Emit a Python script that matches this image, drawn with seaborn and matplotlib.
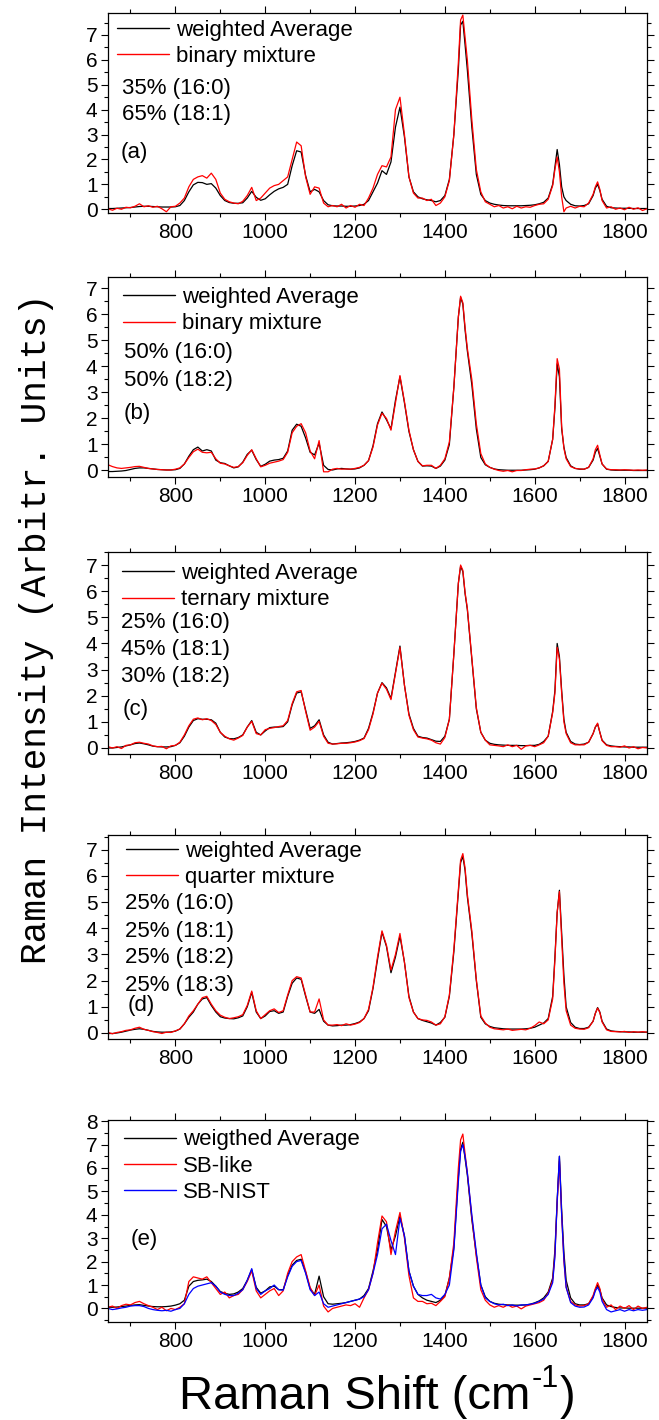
import matplotlib
matplotlib.use("Agg")
import matplotlib.pyplot as plt
from matplotlib.ticker import MultipleLocator
import pandas as pd
import seaborn as sns

# Raman shift grid (cm^-1) shared by every spectrum
shift = [650, 660, 670, 680, 690, 700, 710, 720, 730, 740,
         750, 760, 770, 780, 790, 800, 810, 820, 830, 840,
         850, 860, 870, 880, 890, 900, 910, 920, 930, 940,
         950, 960, 970, 980, 990, 1000, 1010, 1020, 1030, 1040,
         1050, 1060, 1070, 1080, 1090, 1100, 1110, 1120, 1130, 1140,
         1150, 1160, 1170, 1180, 1190, 1200, 1210, 1220, 1230, 1240,
         1250, 1260, 1270, 1280, 1290, 1300, 1310, 1320, 1330, 1340,
         1350, 1360, 1370, 1380, 1390, 1400, 1410, 1420, 1430, 1435,
         1440, 1445, 1450, 1460, 1470, 1480, 1490, 1500, 1510, 1520,
         1530, 1540, 1550, 1560, 1570, 1580, 1590, 1600, 1610, 1620,
         1630, 1640, 1645, 1650, 1655, 1660, 1665, 1670, 1680, 1690,
         1700, 1710, 1720, 1730, 1735, 1740, 1745, 1750, 1760, 1770,
         1780, 1790, 1800, 1810, 1820, 1830, 1840, 1850]

# (a) 35% 16:0 + 65% 18:1
avg_a = [0.03, 0.03, 0.04, 0.05, 0.06, 0.07, 0.09, 0.11, 0.12, 0.12,
         0.11, 0.10, 0.09, 0.09, 0.09, 0.10, 0.15, 0.35, 0.70, 0.98,
         1.08, 1.07, 1.00, 1.03, 0.85, 0.55, 0.35, 0.27, 0.24, 0.24,
         0.26, 0.45, 0.72, 0.48, 0.36, 0.42, 0.58, 0.72, 0.82, 0.88,
         1.00, 1.75, 2.35, 2.30, 1.35, 0.70, 0.80, 0.70, 0.35, 0.18,
         0.14, 0.13, 0.13, 0.12, 0.12, 0.13, 0.15, 0.20, 0.35, 0.70,
         1.05, 1.55, 1.40, 1.90, 3.30, 4.10, 2.90, 1.30, 0.70, 0.50,
         0.42, 0.38, 0.35, 0.30, 0.35, 0.55, 1.20, 3.00, 5.60, 7.40,
         7.55, 6.60, 5.60, 3.30, 1.40, 0.60, 0.35, 0.25, 0.20, 0.17,
         0.15, 0.14, 0.14, 0.14, 0.14, 0.15, 0.16, 0.18, 0.22, 0.28,
         0.45, 1.00, 1.70, 2.40, 1.80, 0.90, 0.50, 0.35, 0.20, 0.14,
         0.13, 0.15, 0.22, 0.55, 0.85, 1.00, 0.75, 0.40, 0.12, 0.06,
         0.05, 0.04, 0.04, 0.04, 0.03, 0.03, 0.03, 0.03]
mix_a = [0.02, -0.04, 0.04, 0.00, 0.08, 0.06, 0.12, 0.22, 0.10, 0.14,
         0.08, 0.12, 0.02, -0.10, 0.10, 0.12, 0.25, 0.45, 0.90, 1.20,
         1.30, 1.35, 1.25, 1.45, 1.20, 0.65, 0.40, 0.30, 0.25, 0.22,
         0.32, 0.55, 0.88, 0.35, 0.45, 0.65, 0.85, 0.95, 1.00, 1.15,
         1.30, 2.00, 2.70, 2.55, 1.30, 0.60, 0.90, 0.85, 0.25, 0.10,
         0.15, 0.10, 0.20, 0.05, 0.15, 0.08, 0.20, 0.15, 0.45, 0.85,
         1.40, 1.75, 1.70, 2.10, 4.00, 4.50, 3.00, 1.30, 0.65, 0.45,
         0.45, 0.35, 0.40, 0.15, 0.25, 0.50, 1.15, 3.00, 5.90, 7.60,
         7.80, 6.90, 6.00, 3.60, 1.60, 0.70, 0.30, 0.20, 0.10, 0.15,
         0.05, 0.10, 0.02, 0.12, 0.05, 0.10, 0.08, 0.15, 0.20, 0.22,
         0.40, 0.95, 1.60, 2.10, 1.50, 0.50, -0.10, 0.05, 0.12, 0.05,
         0.12, 0.10, 0.25, 0.60, 0.90, 1.10, 0.80, 0.35, 0.05, 0.10,
         0.00, 0.05, -0.02, 0.08, 0.00, 0.06, -0.05, 0.02]

# (b) 50% 16:0 + 50% 18:2
avg_b = [-0.04, -0.04, -0.03, -0.02, 0.00, 0.04, 0.08, 0.10, 0.10, 0.08,
         0.06, 0.04, 0.03, 0.02, 0.02, 0.03, 0.08, 0.25, 0.55, 0.80,
         0.90, 0.75, 0.80, 0.75, 0.40, 0.30, 0.27, 0.18, 0.10, 0.14,
         0.32, 0.62, 0.78, 0.42, 0.16, 0.24, 0.36, 0.40, 0.42, 0.47,
         0.75, 1.55, 1.78, 1.70, 1.25, 0.70, 0.60, 1.05, 0.20, 0.04,
         0.02, 0.06, 0.08, 0.06, 0.05, 0.06, 0.10, 0.20, 0.38, 0.95,
         1.80, 2.25, 1.95, 1.60, 2.70, 3.60, 2.60, 1.50, 0.80, 0.35,
         0.17, 0.18, 0.17, 0.08, 0.17, 0.40, 1.00, 3.20, 5.90, 6.65,
         6.40, 5.40, 4.60, 3.30, 1.60, 0.50, 0.22, 0.12, 0.06, 0.03,
         0.02, 0.01, 0.01, 0.01, 0.01, 0.02, 0.03, 0.05, 0.10, 0.18,
         0.35, 1.20, 2.40, 4.10, 3.60, 1.60, 0.90, 0.50, 0.18, 0.08,
         0.05, 0.05, 0.12, 0.40, 0.70, 0.85, 0.55, 0.25, 0.05, 0.02,
         0.01, 0.01, 0.01, 0.01, 0.00, 0.00, 0.00, 0.00]
mix_b = [0.22, 0.15, 0.10, 0.08, 0.10, 0.12, 0.15, 0.16, 0.12, 0.08,
         0.06, 0.04, 0.03, 0.02, 0.02, 0.05, 0.10, 0.25, 0.50, 0.72,
         0.82, 0.70, 0.68, 0.70, 0.45, 0.28, 0.25, 0.18, 0.12, 0.15,
         0.30, 0.58, 0.80, 0.45, 0.14, 0.20, 0.28, 0.32, 0.36, 0.42,
         0.70, 1.45, 1.70, 1.80, 1.45, 0.75, 0.45, 1.15, -0.05, -0.05,
         0.05, 0.08, 0.05, 0.06, 0.05, 0.08, 0.12, 0.20, 0.38, 0.90,
         1.75, 2.20, 2.00, 1.55, 2.60, 3.65, 2.65, 1.55, 0.80, 0.35,
         0.18, 0.20, 0.20, 0.08, 0.20, 0.45, 1.10, 3.20, 5.90, 6.70,
         6.45, 5.50, 4.70, 3.50, 1.80, 0.65, 0.25, 0.12, 0.05, 0.00,
         -0.03, 0.00, -0.05, 0.00, 0.00, 0.03, 0.05, 0.06, 0.10, 0.18,
         0.35, 1.20, 2.50, 4.30, 3.90, 1.70, 0.85, 0.45, 0.15, 0.08,
         0.06, 0.05, 0.12, 0.45, 0.80, 0.97, 0.60, 0.25, 0.06, 0.03,
         0.03, 0.02, 0.03, 0.02, 0.01, 0.02, 0.01, 0.02]

# (c) 25% 16:0 + 45% 18:1 + 30% 18:2
avg_c = [0.00, 0.00, 0.02, 0.04, 0.08, 0.12, 0.17, 0.19, 0.16, 0.12,
         0.07, 0.05, 0.04, 0.04, 0.05, 0.10, 0.20, 0.45, 0.80, 1.05,
         1.12, 1.10, 1.10, 1.08, 0.95, 0.60, 0.42, 0.36, 0.35, 0.40,
         0.50, 0.80, 1.05, 0.60, 0.50, 0.65, 0.78, 0.80, 0.80, 0.82,
         1.00, 1.65, 2.10, 2.15, 1.45, 0.75, 0.85, 1.08, 0.50, 0.22,
         0.15, 0.17, 0.19, 0.20, 0.22, 0.25, 0.30, 0.38, 0.75, 1.35,
         2.10, 2.50, 2.30, 1.90, 2.90, 3.90, 2.40, 1.30, 0.75, 0.45,
         0.40, 0.38, 0.32, 0.26, 0.25, 0.45, 1.10, 3.60, 6.30, 6.95,
         6.75, 5.90, 5.30, 3.40, 1.50, 0.60, 0.30, 0.18, 0.14, 0.12,
         0.11, 0.10, 0.10, 0.10, 0.09, 0.09, 0.10, 0.10, 0.14, 0.25,
         0.45, 1.40, 2.20, 4.00, 3.50, 2.20, 1.10, 0.60, 0.25, 0.15,
         0.13, 0.15, 0.22, 0.55, 0.80, 0.92, 0.60, 0.30, 0.12, 0.08,
         0.06, 0.05, 0.04, 0.04, 0.03, 0.03, 0.03, 0.03]
mix_c = [0.05, 0.00, 0.05, -0.02, 0.10, 0.12, 0.20, 0.22, 0.18, 0.15,
         0.08, 0.05, 0.06, -0.03, 0.08, 0.10, 0.22, 0.50, 0.85, 1.10,
         1.15, 1.08, 1.12, 1.05, 0.90, 0.60, 0.45, 0.35, 0.30, 0.38,
         0.48, 0.80, 1.02, 0.55, 0.50, 0.70, 0.75, 0.78, 0.82, 0.85,
         1.05, 1.70, 2.15, 2.20, 1.40, 0.68, 0.80, 1.02, 0.45, 0.18,
         0.15, 0.16, 0.18, 0.18, 0.20, 0.23, 0.28, 0.36, 0.70, 1.30,
         2.10, 2.48, 2.25, 1.85, 2.85, 3.85, 2.40, 1.25, 0.70, 0.42,
         0.38, 0.35, 0.30, 0.20, 0.15, 0.40, 1.10, 3.60, 6.30, 7.00,
         6.80, 5.95, 5.35, 3.45, 1.55, 0.60, 0.30, 0.12, 0.10, 0.08,
         0.05, 0.12, 0.05, 0.10, -0.05, 0.08, 0.10, 0.05, 0.12, 0.20,
         0.45, 1.35, 2.10, 3.85, 3.40, 2.10, 1.00, 0.55, 0.20, 0.12,
         0.12, 0.12, 0.22, 0.55, 0.80, 0.95, 0.60, 0.28, 0.10, 0.05,
         0.05, 0.03, 0.08, 0.00, 0.05, -0.03, 0.02, 0.00]

# (d) 25% each of 16:0, 18:1, 18:2, 18:3
avg_d = [-0.02, -0.02, 0.00, 0.03, 0.07, 0.11, 0.14, 0.16, 0.14, 0.10,
         0.06, 0.04, 0.03, 0.03, 0.04, 0.07, 0.15, 0.35, 0.60, 0.80,
         1.10, 1.30, 1.35, 1.05, 0.80, 0.62, 0.57, 0.55, 0.54, 0.58,
         0.65, 1.00, 1.55, 0.80, 0.55, 0.65, 0.82, 0.85, 0.75, 0.80,
         1.40, 1.90, 2.10, 2.05, 1.40, 0.80, 0.75, 0.90, 0.45, 0.30,
         0.27, 0.28, 0.30, 0.30, 0.32, 0.36, 0.42, 0.55, 0.85, 1.70,
         2.80, 3.85, 3.30, 2.30, 2.90, 3.70, 2.70, 1.40, 0.80, 0.55,
         0.48, 0.43, 0.38, 0.30, 0.40, 0.60, 1.40, 3.10, 5.40, 6.50,
         6.75, 6.20, 5.20, 3.80, 2.00, 0.60, 0.35, 0.25, 0.20, 0.18,
         0.16, 0.15, 0.15, 0.15, 0.15, 0.16, 0.18, 0.22, 0.30, 0.38,
         0.55, 1.40, 2.90, 4.60, 5.45, 3.80, 2.20, 1.00, 0.40, 0.22,
         0.17, 0.17, 0.22, 0.45, 0.75, 0.97, 0.80, 0.45, 0.15, 0.08,
         0.06, 0.05, 0.04, 0.04, 0.03, 0.03, 0.03, 0.03]
mix_d = [0.02, -0.03, 0.02, 0.05, 0.10, 0.12, 0.18, 0.22, 0.14, 0.10,
         0.05, 0.02, -0.02, 0.03, 0.02, 0.08, 0.15, 0.35, 0.65, 0.85,
         1.10, 1.35, 1.40, 1.10, 0.85, 0.68, 0.60, 0.55, 0.58, 0.62,
         0.70, 1.05, 1.60, 0.85, 0.55, 0.70, 0.85, 0.92, 0.78, 0.85,
         1.45, 2.00, 2.15, 2.10, 1.45, 0.80, 0.80, 1.30, 0.50, 0.30,
         0.30, 0.32, 0.28, 0.35, 0.30, 0.34, 0.40, 0.55, 0.90, 1.75,
         2.90, 3.90, 3.35, 2.40, 3.00, 3.80, 2.70, 1.35, 0.80, 0.55,
         0.50, 0.48, 0.42, 0.30, 0.35, 0.62, 1.45, 3.20, 5.50, 6.60,
         6.85, 6.30, 5.30, 3.90, 2.05, 0.65, 0.38, 0.22, 0.16, 0.14,
         0.12, 0.15, 0.10, 0.12, 0.14, 0.12, 0.18, 0.28, 0.42, 0.35,
         0.50, 1.30, 2.80, 4.60, 5.40, 3.60, 1.90, 0.85, 0.30, 0.18,
         0.15, 0.14, 0.20, 0.45, 0.75, 0.95, 0.78, 0.42, 0.12, 0.06,
         0.05, 0.04, 0.06, 0.02, 0.05, 0.03, 0.05, 0.03]

# (e) soybean oil: weighted average, SB-like blend and SB-NIST reference
avg_e = [0.05, 0.05, 0.06, 0.08, 0.10, 0.13, 0.15, 0.16, 0.13, 0.10,
         0.08, 0.07, 0.07, 0.08, 0.10, 0.14, 0.20, 0.35, 0.95, 1.15,
         1.20, 1.22, 1.25, 1.15, 0.95, 0.72, 0.65, 0.60, 0.62, 0.70,
         0.85, 1.20, 1.65, 0.90, 0.65, 0.75, 0.92, 0.95, 0.80, 0.80,
         1.40, 1.85, 2.05, 2.10, 1.55, 0.85, 0.60, 1.38, 0.50, 0.20,
         0.18, 0.20, 0.22, 0.25, 0.30, 0.35, 0.40, 0.55, 0.85, 1.60,
         2.50, 3.80, 3.50, 2.50, 3.10, 3.95, 3.10, 1.60, 0.95, 0.60,
         0.45, 0.35, 0.30, 0.25, 0.35, 0.55, 1.30, 2.60, 5.60, 6.80,
         7.10, 6.40, 5.70, 3.80, 2.30, 1.00, 0.50, 0.30, 0.22, 0.18,
         0.16, 0.15, 0.14, 0.14, 0.14, 0.15, 0.18, 0.24, 0.32, 0.45,
         0.70, 1.30, 2.50, 4.60, 6.50, 4.20, 2.40, 1.20, 0.45, 0.20,
         0.15, 0.15, 0.20, 0.50, 0.80, 1.00, 0.80, 0.45, 0.15, 0.08,
         0.04, 0.02, 0.02, 0.01, 0.01, 0.01, 0.01, 0.01]
sblike_e = [0.05, 0.10, 0.00, 0.12, 0.18, 0.15, 0.25, 0.30, 0.20, 0.12,
            0.05, -0.05, 0.05, -0.10, 0.00, -0.05, 0.05, 0.20, 1.15, 1.35,
            1.30, 1.25, 1.35, 1.10, 0.85, 0.60, 0.70, 0.45, 0.55, 0.60,
            0.80, 1.15, 1.60, 0.75, 0.45, 0.60, 0.75, 0.85, 0.55, 0.75,
            1.50, 2.00, 2.20, 2.30, 1.60, 0.90, 0.55, 1.00, 0.10, -0.15,
            0.00, 0.05, 0.10, 0.15, 0.12, 0.20, 0.05, 0.45, 0.80, 1.50,
            2.80, 3.95, 3.70, 2.30, 3.30, 4.10, 3.00, 1.40, 0.45, 0.30,
            0.30, 0.20, 0.22, 0.12, 0.30, 0.50, 1.30, 2.80, 6.00, 7.20,
            7.45, 6.60, 5.80, 3.90, 2.20, 0.80, 0.35, 0.15, 0.05, 0.12,
            0.05, 0.15, 0.05, 0.10, -0.02, 0.10, 0.15, 0.20, 0.25, 0.35,
            0.65, 1.20, 2.30, 4.50, 6.30, 4.00, 2.00, 0.90, 0.30, 0.15,
            0.10, 0.12, 0.20, 0.55, 0.85, 1.10, 0.85, 0.40, 0.05, 0.15,
            -0.05, 0.10, 0.00, 0.12, -0.05, 0.10, 0.00, 0.05]
sbnist_e = [0.00, -0.05, -0.02, 0.02, 0.05, 0.10, 0.12, 0.12, 0.08, 0.00,
            -0.05, -0.08, -0.10, -0.08, -0.12, -0.05, 0.00, 0.20, 0.60, 0.85,
            0.95, 1.00, 1.05, 1.10, 0.95, 0.70, 0.60, 0.55, 0.55, 0.65,
            0.80, 1.20, 1.70, 0.85, 0.60, 0.75, 0.85, 1.00, 0.80, 0.78,
            1.35, 1.80, 2.00, 2.05, 1.50, 0.80, 0.55, 0.70, 0.20, 0.05,
            0.10, 0.15, 0.20, 0.25, 0.30, 0.35, 0.40, 0.50, 0.80, 1.50,
            2.30, 3.40, 3.60, 2.90, 2.30, 3.85, 3.10, 1.60, 0.95, 0.60,
            0.55, 0.55, 0.60, 0.45, 0.40, 0.60, 1.00, 2.50, 5.40, 6.70,
            7.00, 6.50, 5.80, 4.00, 2.40, 1.00, 0.45, 0.30, 0.20, 0.15,
            0.18, 0.12, 0.15, 0.10, 0.15, 0.15, 0.18, 0.22, 0.30, 0.40,
            0.60, 1.10, 2.20, 4.60, 6.50, 4.00, 2.10, 0.90, 0.25, 0.10,
            0.05, 0.06, 0.15, 0.45, 0.75, 0.90, 0.70, 0.30, -0.05, -0.15,
            -0.10, -0.05, -0.12, -0.05, -0.10, -0.05, -0.08, -0.05]

legend_a = ["weighted Average", "binary mixture"]
legend_b = ["weighted Average", "binary mixture"]
legend_c = ["weighted Average", "ternary mixture"]
legend_d = ["weighted Average", "quarter mixture"]
legend_e = ["weigthed Average", "SB-like", "SB-NIST"]

notes_a = ["35% (16:0)", "65% (18:1)"]
notes_b = ["50% (16:0)", "50% (18:2)"]
notes_c = ["25% (16:0)", "45% (18:1)", "30% (18:2)"]
notes_d = ["25% (16:0)", "25% (18:1)", "25% (18:2)", "25% (18:3)"]
notes_e = []

tags = ["(a)", "(b)", "(c)", "(d)", "(e)"]
x_ticks = [800, 1000, 1200, 1400, 1600, 1800]

sns.set_style("ticks")
plt.rcParams["font.family"] = ["Liberation Sans", "DejaVu Sans"]
plt.rcParams["text.color"] = "black"
plt.rcParams["axes.labelcolor"] = "black"
plt.rcParams["xtick.color"] = "black"
plt.rcParams["ytick.color"] = "black"

W, H = 659, 1420
fig = plt.figure(figsize=(W / 100, H / 100), dpi=100)
fig.patch.set_facecolor("white")

# layout of each panel in pixels: (top, bottom), y-limits, legend anchor,
# first legend row, note rows, tag row/x
panels = [
    dict(box=(13.3, 213.0), ylim=(-0.15, 7.87), series=[avg_a, mix_a], labels=legend_a,
         colors=["black", "red"], notes=notes_a, leg_x=117, leg_y=14,
         note_x=122, note_rows=[75, 101], tag_x=121, tag_y=139),
    dict(box=(276.7, 477.0), ylim=(-0.25, 7.45), series=[avg_b, mix_b], labels=legend_b,
         colors=["black", "red"], notes=notes_b, leg_x=123, leg_y=18,
         note_x=124, note_rows=[76, 104], tag_x=124, tag_y=137),
    dict(box=(551.7, 754.0), ylim=(-0.23, 7.51), series=[avg_c, mix_c], labels=legend_c,
         colors=["black", "red"], notes=notes_c, leg_x=122, leg_y=19,
         note_x=121, note_rows=[71, 98, 125], tag_x=123, tag_y=158),
    dict(box=(835.0, 1039.0), ylim=(-0.23, 7.56), series=[avg_d, mix_d], labels=legend_d,
         colors=["black", "red"], notes=notes_d, leg_x=126, leg_y=13,
         note_x=125, note_rows=[69, 96, 123, 150], tag_x=128, tag_y=171),
    dict(box=(1120.0, 1322.0), ylim=(-0.58, 8.05), series=[avg_e, sblike_e, sbnist_e],
         labels=legend_e, colors=["black", "red", "blue"], notes=notes_e, leg_x=124,
         leg_y=17, note_x=125, note_rows=[], tag_x=131, tag_y=119),
]

AX_L, AX_R = 108.0, 647.0
for tag, p in zip(tags, panels):
    top, bot = p["box"]
    h = bot - top
    ax = fig.add_axes([AX_L / W, 1 - bot / H, (AX_R - AX_L) / W, h / H])
    for vals, lab, col in zip(p["series"], p["labels"], p["colors"]):
        df = pd.DataFrame({"shift": shift, "intensity": vals})
        sns.lineplot(data=df, x="shift", y="intensity", color=col, linewidth=0.9,
                     label=lab, ax=ax, estimator=None)
    ax.set_xlim(650, 1850)
    ax.set_ylim(*p["ylim"])
    ax.set_xticks(x_ticks)
    ax.xaxis.set_minor_locator(MultipleLocator(100))
    ax.yaxis.set_major_locator(MultipleLocator(1))
    ax.yaxis.set_minor_locator(MultipleLocator(0.5))
    ax.set_xlabel("")
    ax.set_ylabel("")
    ax.tick_params(which="both", direction="out", top=True, right=True,
                   labeltop=False, labelright=False, width=0.8, colors="black",
                   labelcolor="black", labelsize=15, pad=2.5)
    ax.tick_params(which="major", length=5)
    ax.tick_params(which="minor", length=3)
    for s in ax.spines.values():
        s.set_linewidth(0.9)
        s.set_color("black")
    ax.grid(False)

    leg = ax.legend(loc="upper left",
                    bbox_to_anchor=((p["leg_x"] - AX_L) / (AX_R - AX_L), 1 - (p["leg_y"] - 7.5) / h),
                    frameon=False, fontsize=16, handlelength=2.35, handletextpad=0.3,
                    labelspacing=0.235, borderpad=0, borderaxespad=0, labelcolor="black")
    for line in leg.get_lines():
        line.set_linewidth(1.0)

    for note, row in zip(p["notes"], p["note_rows"]):
        ax.text((p["note_x"] - AX_L) / (AX_R - AX_L), 1 - row / h, note,
                transform=ax.transAxes, fontsize=16, va="center", ha="left", color="black")
    ax.text((p["tag_x"] - AX_L) / (AX_R - AX_L), 1 - p["tag_y"] / h, tag,
            transform=ax.transAxes, fontsize=16, va="center", ha="left", color="black")

fig.text(37 / W, 1 - 629 / H, "Raman Intensity (Arbitr. Units)", rotation=90,
         fontsize=26, family=["Liberation Mono", "DejaVu Sans Mono"],
         ha="center", va="center", color="black")

# x-axis title built from three pieces so the superscript keeps a plain hyphen
renderer = fig.canvas.get_renderer()
base_y = 1 - 1409 / H
t_main = fig.text(0, base_y, "Raman Shift (cm", fontsize=34, va="baseline", ha="left")
t_sup = fig.text(0, base_y, "-1", fontsize=22, va="baseline", ha="left")
t_end = fig.text(0, base_y, ")", fontsize=34, va="baseline", ha="left")
w_main = t_main.get_window_extent(renderer).width
w_sup = t_sup.get_window_extent(renderer).width
w_end = t_end.get_window_extent(renderer).width
total = w_main + w_sup + w_end + 2
x0 = (AX_L + AX_R) / 2 - total / 2
t_main.set_x(x0 / W)
t_sup.set_x((x0 + w_main + 1) / W)
t_sup.set_y(base_y + 22 / H)
t_end.set_x((x0 + w_main + w_sup + 2) / W)

fig.savefig("out.png", dpi=100, facecolor="white")
